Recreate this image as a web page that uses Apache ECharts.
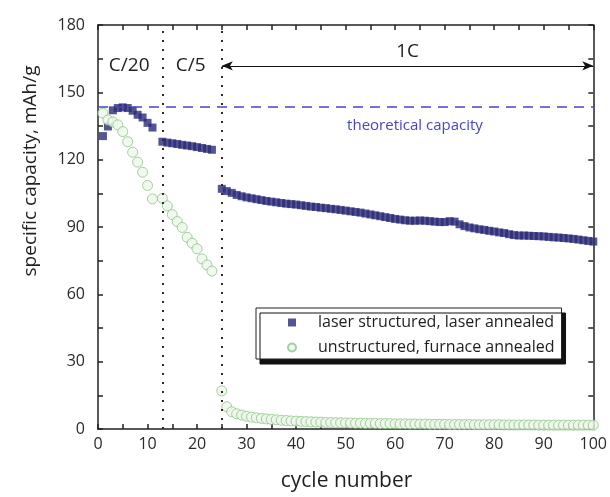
<!DOCTYPE html>
<html>
<head>
<meta charset="utf-8">
<script src="https://cdn.jsdelivr.net/npm/echarts@6/dist/echarts.min.js"></script>
<style>
html,body{margin:0;padding:0;background:#fff;}
#chart{width:610px;height:497px;}
</style>
</head>
<body>
<div id="chart"></div>
<script>
// ---- data ----
var xTicks = [0,10,20,30,40,50,60,70,80,90,100];
var yTicks = [0,30,60,90,120,150,180];

// laser structured, laser annealed
var blueC20Start = 1;
var blueC20 = [130.5, 134.8, 142, 143, 143.3, 143, 141.8, 140, 138.8, 136.4, 134.3];
var blueC5Start = 13;
var blueC5 = [128, 127.6, 127.3, 127, 126.6, 126.3, 126, 125.6, 125.2, 124.8, 124.4];
var blue1CStart = 25;
var blue1C = [
  107, 106, 105.2, 104.3, 103.7, 103.2, 102.8, 102.4, 102, 101.6,
  101.3, 101, 100.7, 100.4, 100.2, 100, 99.7, 99.4, 99.1, 98.9,
  98.6, 98.4, 98.1, 97.9, 97.6, 97.3, 97, 96.7, 96.4, 96,
  95.6, 95.2, 94.8, 94.4, 94, 93.6, 93.3, 93, 92.8, 92.8,
  92.9, 92.8, 92.6, 92.4, 92.2, 92.2, 92.6, 92.4, 91.2, 90.4,
  89.8, 89.4, 89, 88.7, 88.3, 88, 87.6, 87.3, 86.8, 86.4,
  86.2, 86.2, 86.1, 86, 85.9, 85.8, 85.6, 85.4, 85.3, 85.1,
  84.9, 84.7, 84.4, 84.1, 83.8, 83.5
];

// unstructured, furnace annealed
var greenC20Start = 1;
var greenC20 = [140.7, 137.7, 136.8, 135.5, 132.5, 128, 123.3, 118.9, 114.4, 108.5, 102.5];
var greenC5Start = 13;
var greenC5 = [102.8, 99.4, 95.5, 92.4, 89.8, 85.4, 82.8, 80.3, 75.8, 73.1, 70.4];
var green1CStart = 25;
var green1C = [
  17, 9.9, 7.7, 6.8, 6.2, 5.7, 5.3, 5.0, 4.7, 4.5,
  4.3, 4.1, 3.9, 3.8, 3.6, 3.5, 3.4, 3.3, 3.2, 3.1,
  3.0, 2.9, 2.9, 2.8, 2.8, 2.7, 2.7, 2.6, 2.6, 2.5,
  2.5, 2.5, 2.4, 2.4, 2.4, 2.3, 2.3, 2.3, 2.2, 2.2,
  2.2, 2.2, 2.1, 2.1, 2.1, 2.1, 2.0, 2.0, 2.0, 2.0,
  2.0, 1.9, 1.9, 1.9, 1.9, 1.9, 1.9, 1.8, 1.8, 1.8,
  1.8, 1.8, 1.8, 1.8, 1.7, 1.7, 1.7, 1.7, 1.7, 1.7,
  1.7, 1.7, 1.7, 1.7, 1.7, 1.7
];

var seriesNames = ['laser structured, laser annealed', 'unstructured, furnace annealed'];
var phaseBoundaries = [13, 25];
var theoreticalCapacity = 143.5;
var phaseLabels = [
  {name: 'C/20', x: 6.3, y: 161.8},
  {name: 'C/5', x: 18.7, y: 161.8}
];
var arrowSpan = {from: 25, to: 100, y: 161.8, label: '1C'};
var theoLabel = {name: 'theoretical capacity', x: 64, y: 135};

// ---- build ----
function seg(start, vals) {
  return vals.map(function (v, i) { return [start + i, v]; });
}
var blueData = seg(blueC20Start, blueC20).concat(seg(blueC5Start, blueC5), seg(blue1CStart, blue1C));
var greenData = seg(greenC20Start, greenC20).concat(seg(greenC5Start, greenC5), seg(green1CStart, green1C));

var FONT = 'Open Sans';
var axisColor = '#222';

function makeAxis(kind, pos, showLabels) {
  var isX = kind === 'x';
  return {
    type: 'value', min: 0, max: isX ? 100 : 180, interval: isX ? 5 : 15, position: pos,
    axisLine: {show: true, onZero: false, lineStyle: {color: axisColor, width: 1.5}},
    axisTick: {show: true, inside: true, length: 5, lineStyle: {color: axisColor, width: 1.5}},
    axisLabel: showLabels ? {
      color: '#2a2a2a', fontFamily: FONT, fontSize: 16, margin: isX ? 7 : 13,
      formatter: function (v) { return (isX ? xTicks : yTicks).indexOf(v) >= 0 ? String(v) : ''; }
    } : {show: false},
    splitLine: {show: false}
  };
}

var chart = echarts.init(document.getElementById('chart'), null, {renderer: 'canvas'});
var option = {
  animation: false,
  backgroundColor: '#fff',
  grid: {left: 98, right: 15, top: 25, bottom: 68, containLabel: false},
  xAxis: [makeAxis('x', 'bottom', true), makeAxis('x', 'top', false)],
  yAxis: [makeAxis('y', 'left', true), makeAxis('y', 'right', false)],
  legend: {
    orient: 'vertical',
    left: 256, top: 308,
    data: seriesNames,
    backgroundColor: '#fff',
    borderColor: '#222',
    borderWidth: 1,
    borderRadius: 0,
    shadowColor: '#111',
    shadowBlur: 0,
    shadowOffsetX: 4,
    shadowOffsetY: 5,
    padding: [6, 7, 3, 31],
    itemWidth: 8,
    itemHeight: 8,
    itemGap: 8,
    textStyle: {fontFamily: FONT, fontSize: 16, color: '#1e1e1e', lineHeight: 17, padding: [0, 0, 0, 17]}
  },
  series: [{
    name: seriesNames[0],
    type: 'scatter',
    symbol: 'rect',
    symbolSize: 8,
    data: blueData,
    itemStyle: {color: '#2b2a78'},
    z: 3,
    markLine: {
      silent: true,
      symbol: ['none', 'none'],
      label: {show: false},
      lineStyle: {color: '#3a2626', type: [2, 7], width: 2},
      data: phaseBoundaries.map(function (b) { return {xAxis: b}; })
    }
  }, {
    name: seriesNames[1],
    type: 'scatter',
    symbol: 'circle',
    symbolSize: 10,
    data: greenData,
    itemStyle: {color: '#eef8ea', borderColor: '#8fc48a', borderWidth: 1},
    z: 4
  }, {
    name: 'theoretical',
    type: 'scatter',
    data: [],
    silent: true,
    z: 2,
    markLine: {
      silent: true,
      symbol: ['none', 'none'],
      label: {show: false},
      lineStyle: {color: '#4646c8', type: [10, 7], width: 1.5},
      data: [{yAxis: theoreticalCapacity}]
    },
    markPoint: {
      silent: true,
      symbol: 'circle',
      symbolSize: 0,
      data: [{name: theoLabel.name, coord: [theoLabel.x, theoLabel.y]}],
      label: {show: true, position: 'inside', formatter: '{b}', fontFamily: FONT, fontSize: 15, color: '#4646c8'}
    }
  }, {
    name: 'phases',
    type: 'scatter',
    data: [],
    silent: true,
    z: 2,
    markLine: {
      silent: true,
      symbol: ['arrow', 'arrow'],
      symbolSize: [7, 11],
      data: [[{coord: [arrowSpan.from, arrowSpan.y]}, {coord: [arrowSpan.to, arrowSpan.y]}]],
      lineStyle: {color: '#111', type: 'solid', width: 1},
      label: {show: true, position: 'middle', formatter: arrowSpan.label,
        fontFamily: FONT, fontSize: 19, color: '#1e1e1e', backgroundColor: '#fff', padding: [0, 8]}
    },
    markPoint: {
      silent: true,
      symbol: 'circle',
      symbolSize: 0,
      data: phaseLabels.map(function (p) { return {name: p.name, coord: [p.x, p.y]}; }),
      label: {show: true, position: 'inside', formatter: '{b}', fontFamily: FONT, fontSize: 19, color: '#1e1e1e'}
    }
  }],
  graphic: [{
    type: 'text',
    x: 31, y: 171,
    rotation: Math.PI / 2,
    style: {text: 'specific capacity, mAh/g', font: '19px "Open Sans"', fill: '#1e1e1e',
      textAlign: 'center', textVerticalAlign: 'middle'}
  }, {
    type: 'text',
    x: 346.5, y: 481,
    style: {text: 'cycle number', font: '21px "Open Sans"', fill: '#1e1e1e',
      textAlign: 'center', textVerticalAlign: 'middle'}
  }]
};
chart.setOption(option);
</script>
</body>
</html>
